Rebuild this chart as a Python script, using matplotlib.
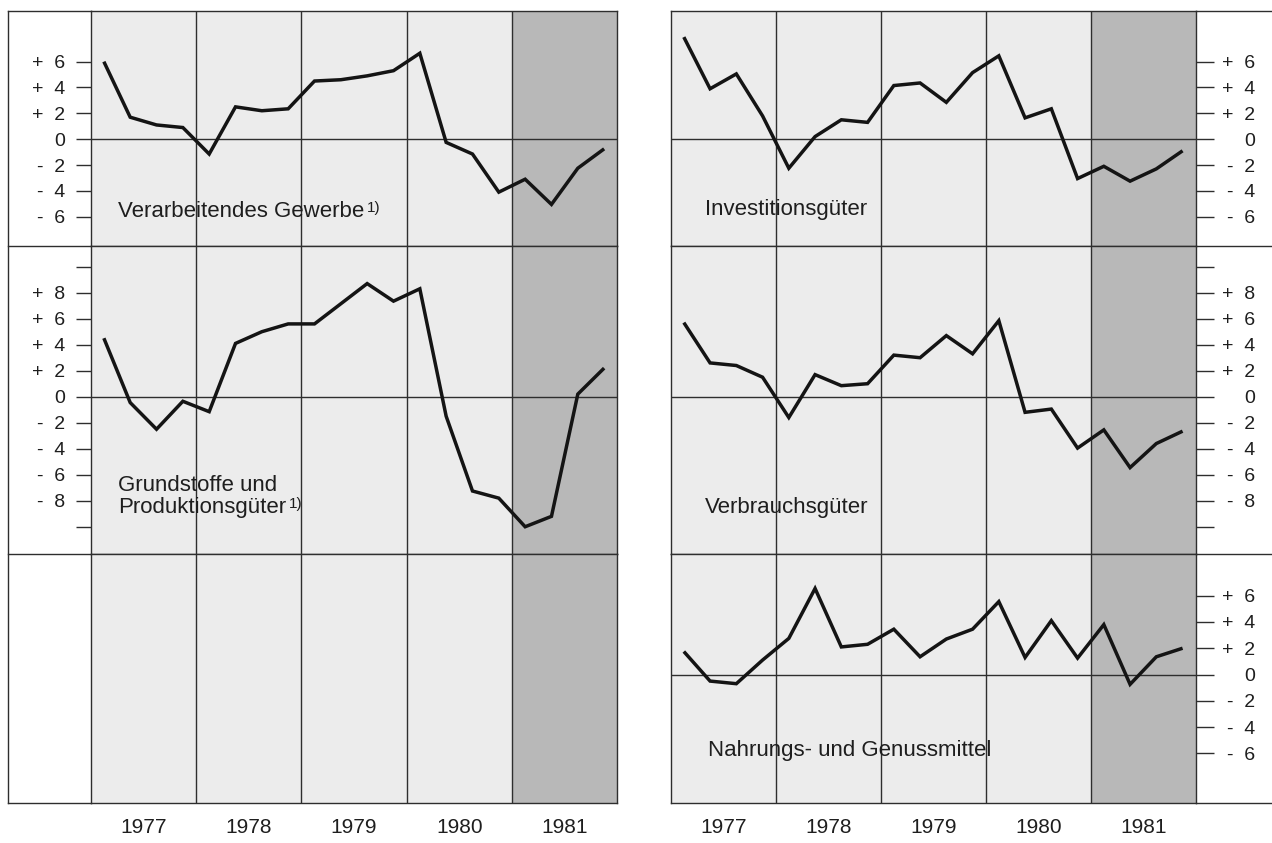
import matplotlib
matplotlib.use("Agg")
import matplotlib.pyplot as plt
from matplotlib.lines import Line2D
from matplotlib.text import Annotation
import numpy as np

# ---------------- data (quarterly change rates, %) ----------------
years = [1977, 1978, 1979, 1980, 1981]
year_labels = ["1977", "1978", "1979", "1980", "1981"]
quarter_index = list(range(20))  # Q1 1977 ... Q4 1981

verarbeitendes = [6.0, 1.7, 1.1, 0.9, -1.15, 2.5, 2.2, 2.35, 4.5, 4.6,
                  4.9, 5.3, 6.65, -0.25, -1.15, -4.1, -3.1, -5.05, -2.25, -0.75]
grundstoffe = [4.5, -0.45, -2.5, -0.35, -1.15, 4.1, 5.0, 5.6, 5.6, 7.15,
               8.7, 7.35, 8.3, -1.5, -7.25, -7.8, -10.0, -9.2, 0.2, 2.2]
investition = [7.9, 3.9, 5.05, 1.8, -2.25, 0.2, 1.5, 1.3, 4.15, 4.35,
               2.85, 5.15, 6.45, 1.65, 2.35, -3.05, -2.1, -3.25, -2.3, -0.9]
verbrauch = [5.7, 2.6, 2.4, 1.5, -1.6, 1.7, 0.85, 1.0, 3.2, 3.0,
             4.7, 3.3, 5.85, -1.2, -0.95, -3.95, -2.55, -5.45, -3.6, -2.65]
nahrung = [1.75, -0.5, -0.7, 1.1, 2.75, 6.55, 2.1, 2.3, 3.45, 1.35,
           2.7, 3.45, 5.55, 1.3, 4.1, 1.25, 3.8, -0.75, 1.35, 2.0]

ticks_small = [-6, -4, -2, 0, 2, 4, 6]
ticks_large = [-10, -8, -6, -4, -2, 0, 2, 4, 6, 8, 10]
unlabeled = [-10, 10]

# ---------------- figure ----------------
plt.rcParams['font.family'] = ['Liberation Sans', 'DejaVu Sans']
W, H = 1272, 843
fig = plt.figure(figsize=(W / 100, H / 100), dpi=100)

LINE = '#2e2e2e'
LIGHT = '#ececec'
DARK = '#b8b8b8'
TXT = '#1e1e1e'
DATA = '#141414'


def fx(px):
    return px / W


def fy(py):
    return 1 - py / H


x_quarters = [years[0] + (q + 0.5) / 4 for q in quarter_index]


def fmt(v):
    if v in unlabeled:
        return ''
    if v == 0:
        return '0'
    return ('+  %d' % v) if v > 0 else ('-  %d' % -v)


def make_ax(x0, x1, ytop, ybot, ylim):
    ax = fig.add_axes([fx(x0), fy(ybot), (x1 - x0) / W, (ybot - ytop) / H])
    ax.set_xlim(years[0], years[-1] + 1)
    ax.set_ylim(*ylim)
    ax.axvspan(years[0], years[-1], color=LIGHT, lw=0, zorder=0)
    ax.axvspan(years[-1], years[-1] + 1, color=DARK, lw=0, zorder=0)
    for y in years[1:]:
        ax.axvline(y, color=LINE, lw=1.0, zorder=1)
    for s in ax.spines.values():
        s.set_color(LINE)
        s.set_linewidth(1.0)
        s.set_zorder(2)
    ax.set_xticks([])
    ax.set_facecolor('none')
    return ax


def set_yaxis(ax, ticks, side):
    ax.set_yticks(ticks)
    ax.set_yticklabels([fmt(t) for t in ticks])
    if side == 'left':
        ax.yaxis.tick_left()
        ax.tick_params(axis='y', direction='out', length=10.5, width=1.0,
                       color=LINE, pad=8, labelsize=14, labelcolor=TXT)
    else:
        ax.yaxis.tick_right()
        ax.tick_params(axis='y', direction='out', length=12.7, width=1.0,
                       color=LINE, pad=30, labelsize=14, labelcolor=TXT)
        for lab in ax.get_yticklabels():
            lab.set_horizontalalignment('right')


LX0, LX1 = 90.7, 617.3
RX0, RX1 = 670.7, 1195.7
R1T, R1B = 11.0, 245.5
R2T, R2B = 245.5, 553.8
R3T, R3B = 553.8, 802.7

ylim1 = (-8.23, 9.92)
ylim2 = (-12.08, 11.63)
ylim3 = (-9.76, 9.19)

panels = [
    (LX0, LX1, R1T, R1B, ylim1, verarbeitendes, ticks_small, 'left'),
    (LX0, LX1, R2T, R2B, ylim2, grundstoffe, ticks_large, 'left'),
    (RX0, RX1, R1T, R1B, ylim1, investition, ticks_small, 'right'),
    (RX0, RX1, R2T, R2B, ylim2, verbrauch, ticks_large, 'right'),
    (RX0, RX1, R3T, R3B, ylim3, nahrung, ticks_small, 'right'),
]

axes = []
for x0, x1, yt, yb, yl, vals, tks, side in panels:
    ax = make_ax(x0, x1, yt, yb, yl)
    ax.axhline(0, color=LINE, lw=1.0, zorder=1)
    ax.plot(x_quarters, vals, color=DATA, lw=2.5, zorder=3,
            solid_joinstyle='miter', solid_capstyle='butt')
    set_yaxis(ax, tks, side)
    axes.append(ax)

# empty lower-left field
ax_empty = make_ax(LX0, LX1, R3T, R3B, ylim3)
ax_empty.set_yticks([])

# year labels below both panels
for ax in (ax_empty, axes[4]):
    ax.set_xticks([y + 0.5 for y in years])
    ax.set_xticklabels(year_labels)
    ax.tick_params(axis='x', length=0, pad=11, labelsize=15, labelcolor=TXT)

# frame extensions
for yy in (R1T, R2T, R3T, R3B):
    fig.add_artist(Line2D([fx(8.3), fx(LX0)], [fy(yy), fy(yy)], color=LINE, lw=1.0))
    fig.add_artist(Line2D([fx(RX1), fx(W)], [fy(yy), fy(yy)], color=LINE, lw=1.0))
fig.add_artist(Line2D([fx(8.3), fx(8.3)], [fy(R1T), fy(R3B)], color=LINE, lw=1.0))


# panel captions
def caption(x, y, s, note=None):
    t = fig.text(fx(x), fy(y), s, fontsize=16, va='baseline', ha='left', color=TXT)
    if note:
        a = Annotation(note, xy=(1, 1), xycoords=t, xytext=(2, 0),
                       textcoords='offset points', fontsize=11, va='top',
                       ha='left', color=TXT, annotation_clip=False)
        a.set_zorder(5)
        fig.add_artist(a)
    return t


caption(118, 217, "Verarbeitendes Gewerbe", "1)")
caption(118, 491.5, "Grundstoffe und")
caption(118, 513.3, "Produktionsgüter", "1)")
caption(705, 215, "Investitionsgüter")
caption(705, 512.7, "Verbrauchsgüter")
caption(708, 755.7, "Nahrungs- und Genussmittel")

fig.savefig('out.png', dpi=100)
